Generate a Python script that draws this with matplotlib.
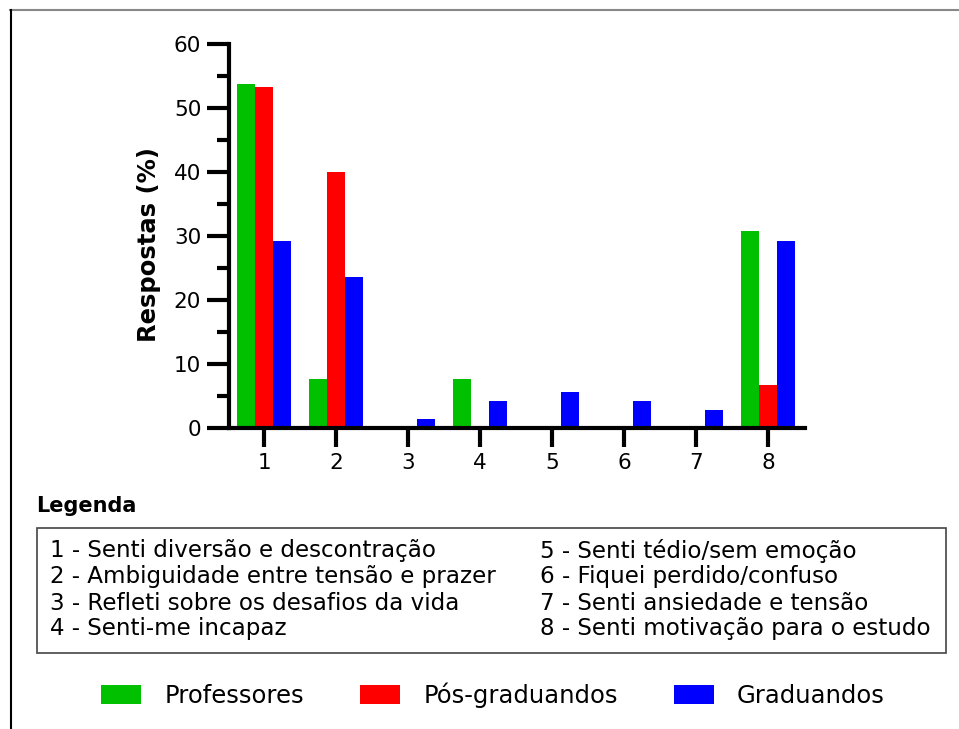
import numpy as np
import matplotlib.pyplot as plt
from matplotlib.patches import Rectangle
from matplotlib.lines import Line2D

plt.rcParams['font.family'] = 'DejaVu Sans'

# dados (%)
categorias = ['1', '2', '3', '4', '5', '6', '7', '8']
professores = [53.8, 7.7, 0, 7.7, 0, 0, 0, 30.8]
pos_graduandos = [53.3, 40.0, 0, 0, 0, 0, 0, 6.7]
graduandos = [29.2, 23.6, 1.4, 4.2, 5.6, 4.2, 2.8, 29.2]
series_nomes = ['Professores', 'Pós-graduandos', 'Graduandos']
cores = ['#00c000', '#ff0000', '#0000ff']

legenda_esq = ['1 - Senti diversão e descontração',
               '2 - Ambiguidade entre tensão e prazer',
               '3 - Refleti sobre os desafios da vida',
               '4 - Senti-me incapaz']
legenda_dir = ['5 - Senti tédio/sem emoção',
               '6 - Fiquei perdido/confuso',
               '7 - Senti ansiedade e tensão',
               '8 - Senti motivação para o estudo']

W, H = 959, 729
fig = plt.figure(figsize=(W / 100, H / 100), dpi=100)

ax = fig.add_axes([229 / W, 1 - 428 / H, 576 / W, 384 / H])
x = np.arange(1, len(categorias) + 1)
w = 0.25
handles = []
for i, (vals, nome, cor) in enumerate(zip([professores, pos_graduandos, graduandos], series_nomes, cores)):
    b = ax.bar(x + (i - 1) * w, vals, width=w, color=cor, label=nome, edgecolor='none')
    handles.append(b)

ax.set_xlim(0.51, 8.51)
ax.set_ylim(0, 60)
ax.set_xticks(x)
ax.set_xticklabels(categorias)
ax.set_yticks(np.arange(0, 61, 10))
ax.set_yticks(np.arange(5, 60, 10), minor=True)
for s in ['top', 'right']:
    ax.spines[s].set_visible(False)
for s in ['left', 'bottom']:
    ax.spines[s].set_linewidth(3)
ax.tick_params(axis='y', which='major', length=16, width=3, labelsize=15.5, pad=4)
ax.tick_params(axis='y', which='minor', length=9, width=3)
ax.tick_params(axis='x', which='major', length=14, width=3, labelsize=15.5, pad=4)
ax.set_ylabel('Respostas (%)', fontsize=17.5, fontweight='bold')
ax.yaxis.set_label_coords(-0.118, 0.477)

# moldura (bordas do recorte)
fig.add_artist(Line2D([10 / W, 958 / W], [1 - 10 / H, 1 - 10 / H], color='#888888', lw=1.5))
fig.add_artist(Line2D([11 / W, 11 / W], [1 - 10 / H, 0], color='black', lw=1.5))

# legenda textual
fig.text(36 / W, 1 - 506 / H, 'Legenda', fontsize=15, fontweight='bold', va='center')
fig.add_artist(Rectangle((37 / W, 1 - 653 / H), (946 - 37) / W, (653 - 528) / H,
                         fill=False, edgecolor='#444444', lw=1.2))
ys = [551, 577, 604, 628]
for t, y in zip(legenda_esq, ys):
    fig.text(50 / W, 1 - y / H, t, fontsize=16.6, va='center')
for t, y in zip(legenda_dir, ys):
    fig.text(540 / W, 1 - y / H, t, fontsize=16.6, va='center')

fig.legend(handles=handles, labels=series_nomes, loc='center', ncol=3,
           bbox_to_anchor=(493 / W, 1 - 695 / H), frameon=False, fontsize=17.5,
           handlelength=1.65, handleheight=0.82, handletextpad=0.95, columnspacing=2.3)

fig.savefig('out.png', dpi=100, facecolor='white')
